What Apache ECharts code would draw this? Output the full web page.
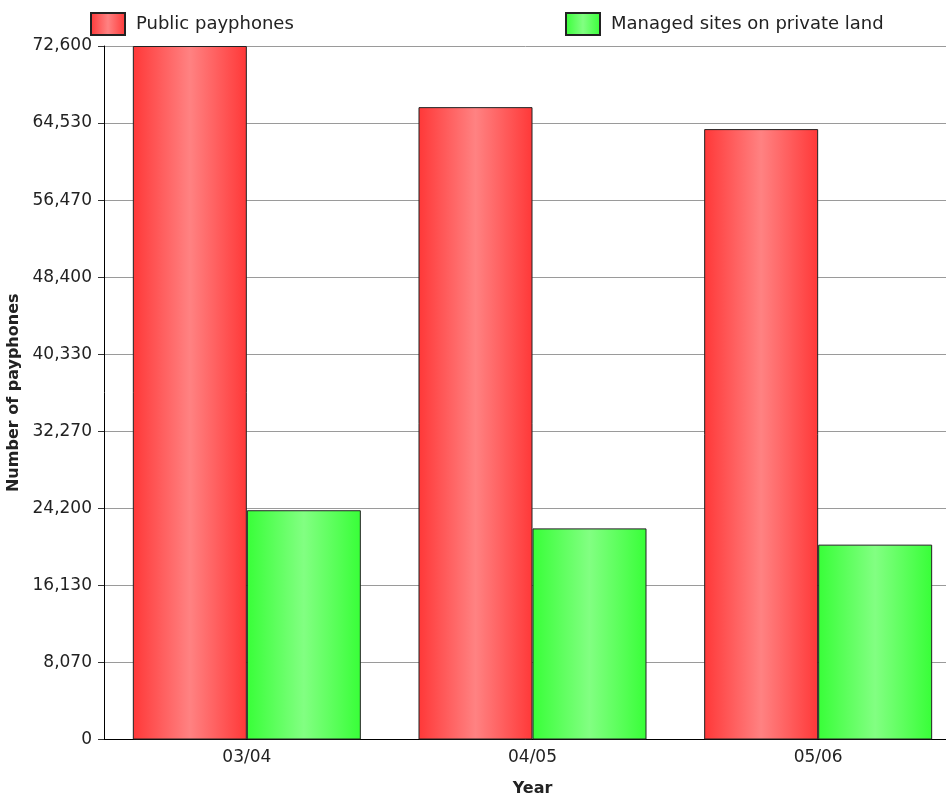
<!DOCTYPE html>
<html>
<head>
<meta charset="utf-8">
<script src="https://cdn.jsdelivr.net/npm/echarts@6/dist/echarts.min.js"></script>
<style>
  html, body { margin: 0; padding: 0; background: #ffffff; }
  #chart { width: 946px; height: 796px; }
</style>
</head>
<body>
<div id="chart"></div>
<script>
// Payphone counts per financial year
const years = ['03/04', '04/05', '05/06'];
const publicPayphones = [72600, 66200, 63900];
const managedSites = [24000, 22100, 20400];
const yTickLabels = ['0', '8,070', '16,130', '24,200', '32,270', '40,330', '48,400', '56,470', '64,530', '72,600'];
const yMax = 72600;

const FONT = 'DejaVu Sans';
const yStep = yMax / (yTickLabels.length - 1);

function barGradient(edge, mid) {
  return new echarts.graphic.LinearGradient(0, 0, 1, 0, [
    { offset: 0, color: edge },
    { offset: 0.5, color: mid },
    { offset: 1, color: edge }
  ]);
}

const chart = echarts.init(document.getElementById('chart'), null, { renderer: 'canvas' });

const legendCommon = {
  top: 12,
  padding: 0,
  itemWidth: 34,
  itemHeight: 22,
  icon: 'rect',
  itemGap: 0,
  textStyle: { fontFamily: FONT, fontSize: 18, color: '#222', padding: [0, 0, 0, 6] }
};

chart.setOption({
  backgroundColor: '#ffffff',
  animation: false,
  legend: [
    Object.assign({ left: 90, data: ['Public payphones'] }, legendCommon),
    Object.assign({ left: 565, data: ['Managed sites on private land'] }, legendCommon)
  ],
  grid: { left: 104, top: 46, width: 857, bottom: 56.5, containLabel: false, outerBoundsMode: 'none' },
  xAxis: {
    type: 'category',
    data: years,
    name: 'Year',
    nameLocation: 'middle',
    nameGap: 41,
    nameTextStyle: { fontFamily: FONT, fontSize: 16, fontWeight: 'bold', color: '#222' },
    axisLine: { lineStyle: { color: '#000', width: 1 } },
    axisTick: { alignWithLabel: true, length: 5, lineStyle: { color: '#333' } },
    axisLabel: { fontFamily: FONT, fontSize: 17, color: '#222', margin: 10 }
  },
  yAxis: {
    type: 'value',
    min: 0,
    max: yMax,
    interval: yStep,
    name: 'Number of payphones',
    nameLocation: 'middle',
    nameGap: 81,
    nameTextStyle: { fontFamily: FONT, fontSize: 16, fontWeight: 'bold', color: '#222' },
    axisLine: { show: true, lineStyle: { color: '#000', width: 1 } },
    axisTick: { show: true, length: 6, lineStyle: { color: '#333' } },
    axisLabel: {
      fontFamily: FONT, fontSize: 17, color: '#222', margin: 12,
      formatter: function (v) { return yTickLabels[Math.round(v / yStep)] || ''; }
    },
    splitLine: { show: true, lineStyle: { color: '#9a9a9a', width: 1 } }
  },
  series: [
    {
      name: 'Public payphones',
      type: 'bar',
      data: publicPayphones,
      barWidth: 114,
      barGap: '0%',
      itemStyle: { color: barGradient('#ff3838', '#ff8282'), borderColor: '#222', borderWidth: 1 }
    },
    {
      name: 'Managed sites on private land',
      type: 'bar',
      data: managedSites,
      barWidth: 114,
      barGap: '0%',
      itemStyle: { color: barGradient('#38ff38', '#82ff82'), borderColor: '#222', borderWidth: 1 }
    }
  ]
});
</script>
</body>
</html>
